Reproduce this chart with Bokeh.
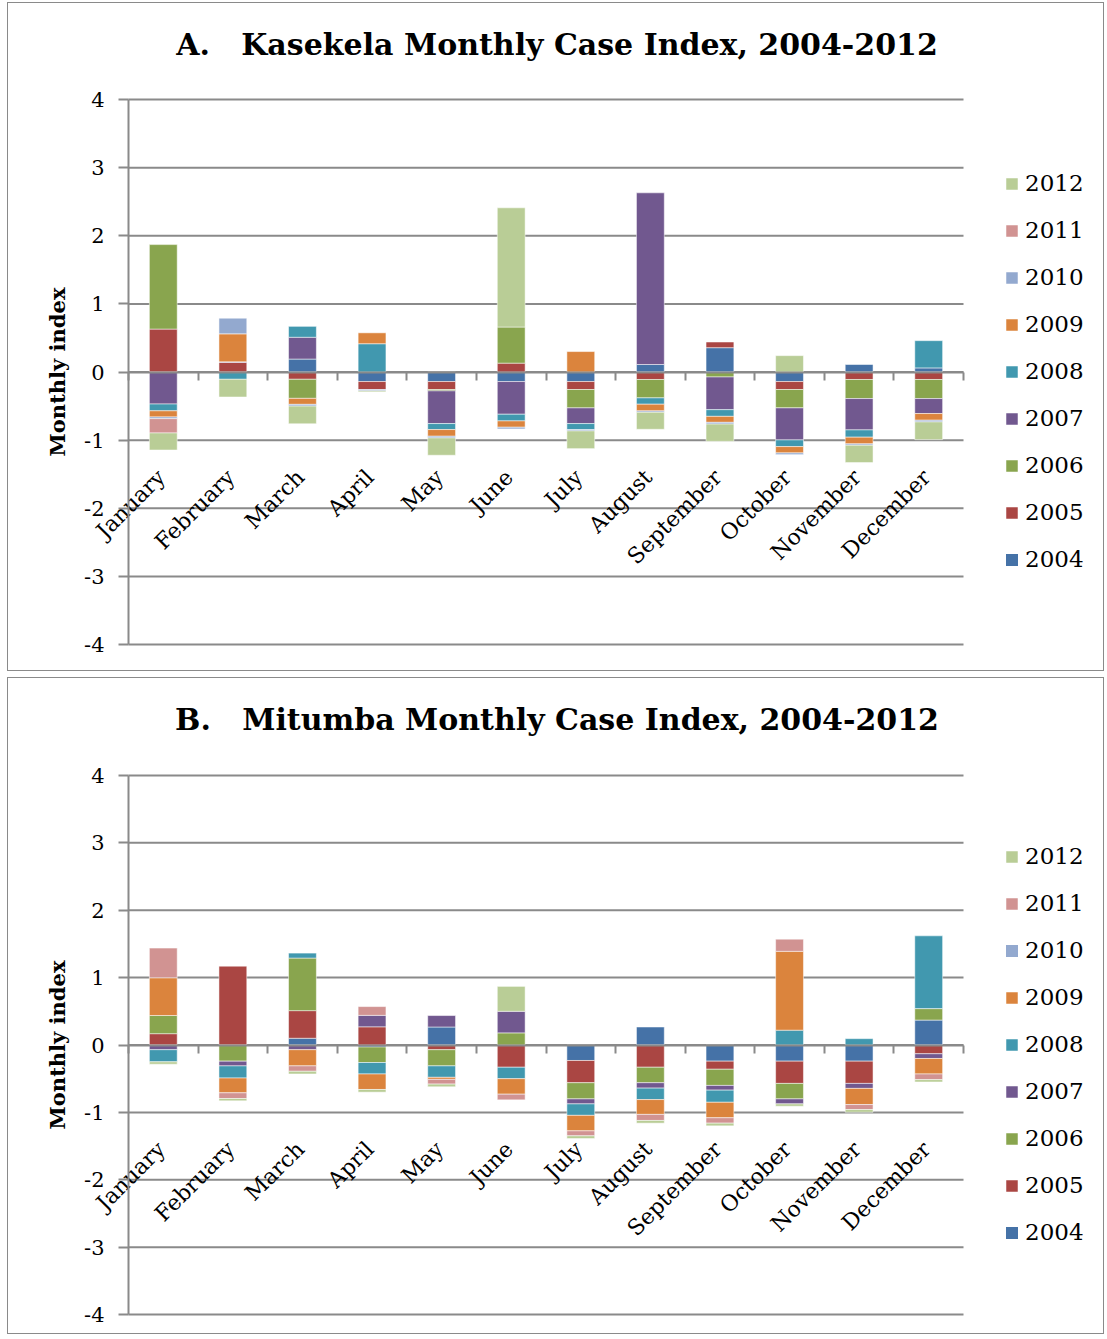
import numpy as np
from math import pi
from bokeh.plotting import figure
from bokeh.models import ColumnDataSource, Legend, LegendItem, FixedTicker, Range1d, LinearAxis
from bokeh.layouts import column
from bokeh.embed import file_html
from bokeh.resources import INLINE

months = ["January", "February", "March", "April", "May", "June", "July",
          "August", "September", "October", "November", "December"]
years = ["2004", "2005", "2006", "2007", "2008", "2009", "2010", "2011", "2012"]
colors = ["#4572A7", "#AA4643", "#89A54E", "#71588F", "#4198AF",
          "#DB843D", "#93A9CF", "#D19392", "#B9CD96"]
y_ticks = [-4, -3, -2, -1, 0, 1, 2, 3, 4]
y_tick_labels = ["-4", "-3", "-2", "-1", "0", "1", "2", "3", "4"]

# Panel A: Kasekela (Jan..Dec)
kas_2004 = [0, 0, 0.19, -0.14, -0.14, -0.14, -0.14, 0.11, 0.357, -0.14, 0.11, 0.06]
kas_2005 = [0.63, 0.14, -0.107, -0.117, -0.117, 0.13, -0.117, -0.11, 0.083, -0.117, -0.11, -0.11]
kas_2006 = [1.24, 0, -0.28, 0, -0.02, 0.53, -0.27, -0.27, -0.073, -0.27, -0.28, -0.28]
kas_2007 = [-0.47, 0.01, 0.32, 0, -0.48, -0.48, -0.23, 2.52, -0.48, -0.47, -0.46, -0.22]
kas_2008 = [-0.10, -0.107, 0.16, 0.415, -0.088, -0.098, -0.088, -0.093, -0.098, -0.098, -0.107, 0.40]
kas_2009 = [-0.09, 0.41, -0.088, 0.16, -0.098, -0.093, 0.30, -0.098, -0.088, -0.093, -0.098, -0.098]
kas_2010 = [-0.025, 0.23, -0.025, -0.02, -0.025, -0.025, -0.02, -0.02, -0.025, -0.025, -0.02, -0.025]
kas_2011 = [-0.21, 0, 0, 0, 0, 0, 0, 0, 0, 0, 0, 0]
kas_2012 = [-0.25, -0.26, -0.26, -0.015, -0.254, 1.75, -0.26, -0.25, -0.254, 0.24, -0.254, -0.26]

# Panel B: Mitumba (Jan..Dec)
mit_2004 = [0, 0, 0.10, -0.03, 0.267, 0, -0.23, 0.267, -0.24, -0.24, -0.24, 0.37]
mit_2005 = [0.168, 1.17, 0.41, 0.27, -0.07, -0.33, -0.33, -0.33, -0.12, -0.33, -0.33, -0.13]
mit_2006 = [0.27, -0.24, 0.78, -0.23, -0.24, 0.18, -0.24, -0.23, -0.24, -0.23, 0, 0.17]
mit_2007 = [-0.07, -0.07, -0.07, 0.17, 0.17, 0.32, -0.074, -0.08, -0.07, -0.074, -0.074, -0.07]
mit_2008 = [-0.18, -0.18, 0.074, -0.17, -0.17, -0.17, -0.17, -0.17, -0.18, 0.22, 0.094, 1.08]
mit_2009 = [0.56, -0.22, -0.24, -0.23, -0.03, -0.23, -0.23, -0.22, -0.23, 1.17, -0.24, -0.23]
mit_2010 = [0, 0, 0, 0, 0, 0, 0, 0, 0, 0, 0, 0]
mit_2011 = [0.44, -0.084, -0.08, 0.13, -0.07, -0.084, -0.074, -0.09, -0.08, 0.18, -0.074, -0.084]
mit_2012 = [-0.035, -0.035, -0.04, -0.04, -0.04, 0.37, -0.04, -0.04, -0.04, -0.035, -0.04, -0.035]

kas_series = [kas_2004, kas_2005, kas_2006, kas_2007, kas_2008, kas_2009, kas_2010, kas_2011, kas_2012]
mit_series = [mit_2004, mit_2005, mit_2006, mit_2007, mit_2008, mit_2009, mit_2010, mit_2011, mit_2012]

GRAY = "#8a8a8a"
SERIF = "DejaVu Serif"
W = 1097            # canvas width
PLOT_LEFT = 120     # px from canvas left to the value axis
PLOT_W = 835        # px width of the 12 categories
CAT_W = PLOT_W / 12.0
PAD = 17            # px of frame above +4 and below -4 (room for tick labels)


def make_panel(title_text, series, height, top_b, plot_h, legend_y, title_standoff, styles):
    x_start = 0.5 - PLOT_LEFT / CAT_W
    x_end = 0.5 + (W - PLOT_LEFT) / CAT_W
    ypad = PAD * 8.0 / plot_h
    p = figure(width=W, height=height, x_range=Range1d(x_start, x_end),
               y_range=Range1d(-4 - ypad, 4 + ypad),
               output_backend="svg", toolbar_location=None,
               x_axis_location=None, y_axis_location=None,
               min_border_left=0, min_border_right=0,
               min_border_top=top_b - PAD,
               min_border_bottom=height - top_b - plot_h - PAD)
    p.styles = styles
    p.outline_line_color = None
    p.background_fill_color = "white"
    p.border_fill_color = "white"
    p.xgrid.visible = False
    p.ygrid.visible = False

    p.title.text = title_text
    p.title.text_font = SERIF
    p.title.text_font_style = "bold"
    p.title.text_font_size = "30px"
    p.title.text_color = "black"
    p.title.align = "center"
    p.title.offset = 2
    p.title.standoff = title_standoff

    # horizontal gridlines across the 12 categories
    p.segment(x0=[0.5] * len(y_ticks), x1=[12.5] * len(y_ticks), y0=y_ticks, y1=y_ticks,
              line_color=GRAY, line_width=2)

    # value axis at the left edge of the categories
    yax = LinearAxis(fixed_location=0.5, bounds=(-4, 4), ticker=FixedTicker(ticks=y_ticks),
                     major_label_overrides=dict(zip(y_ticks, y_tick_labels)),
                     major_label_text_font=SERIF, major_label_text_font_size="21px",
                     major_label_text_color="black",
                     axis_line_color=GRAY, axis_line_width=2,
                     major_tick_line_color=GRAY, major_tick_line_width=2,
                     major_tick_out=10, major_tick_in=0, minor_tick_line_color=None,
                     major_label_standoff=14,
                     axis_label="Monthly index", axis_label_text_font=SERIF,
                     axis_label_text_font_style="bold", axis_label_text_font_size="21px",
                     axis_label_text_color="black", axis_label_standoff=11)
    p.add_layout(yax, "left")

    # category axis crossing at zero, ticks between categories
    xax = LinearAxis(fixed_location=0, bounds=(0.5, 12.5),
                     ticker=FixedTicker(ticks=[i + 0.5 for i in range(13)]),
                     major_label_text_color=None,
                     axis_line_color=GRAY, axis_line_width=2,
                     major_tick_line_color=GRAY, major_tick_line_width=2,
                     major_tick_out=8, major_tick_in=0, minor_tick_line_color=None)
    p.add_layout(xax, "below")

    # category labels (rotated), sitting below the zero axis as in the original
    lab_ticks = [i + 1 - 0.03 for i in range(12)]
    lab = LinearAxis(fixed_location=-1.49, ticker=FixedTicker(ticks=lab_ticks),
                     major_label_overrides=dict(zip(lab_ticks, months)),
                     major_label_orientation=pi / 4,
                     axis_line_color=None, major_tick_line_color=None,
                     minor_tick_line_color=None, major_tick_out=0, major_tick_in=0,
                     major_label_standoff=0, major_label_text_font=SERIF,
                     major_label_text_font_size="22px", major_label_text_color="black")
    p.add_layout(lab, "below")

    x = np.arange(1, 13)
    pos = np.zeros(12)
    neg = np.zeros(12)
    items = []
    for yr, vals, col in zip(years, series, colors):
        v = np.array(vals, dtype=float)
        base = np.where(v >= 0, pos, neg)
        top = base + v
        pos = np.where(v > 0, pos + v, pos)
        neg = np.where(v < 0, neg + v, neg)
        la = np.where(v != 0, 0.5, 0.0)
        src = ColumnDataSource(dict(x=x, top=top, bottom=base, la=la))
        r = p.vbar(x="x", top="top", bottom="bottom", width=0.4, source=src,
                   fill_color=col, line_color="white", line_alpha="la", line_width=1)
        items.append(LegendItem(label=yr, renderers=[r]))

    legend = Legend(items=items[::-1], location=(PLOT_LEFT + PLOT_W + 41, legend_y + PAD),
                    glyph_width=15, glyph_height=15, label_standoff=6,
                    spacing=21, padding=0, margin=0,
                    border_line_color=None, background_fill_alpha=0,
                    label_text_font=SERIF, label_text_font_size="23px",
                    label_text_color="black")
    p.add_layout(legend, "center")
    return p


pA = make_panel("A.\u00a0\u00a0 Kasekela Monthly Case Index, 2004-2012", kas_series,
                669, 96, 545, 72, 41,
                {"border": "1px solid #8a8a8a", "margin-left": "7px", "margin-top": "2px"})
pB = make_panel("B.\u00a0\u00a0 Mitumba Monthly Case Index, 2004-2012", mit_series,
                657, 96, 540, 69, 43,
                {"border": "1px solid #8a8a8a", "margin-left": "7px"})

layout = column(pA, pB, spacing=6)
open("out.html", "w").write(file_html(layout, INLINE))
